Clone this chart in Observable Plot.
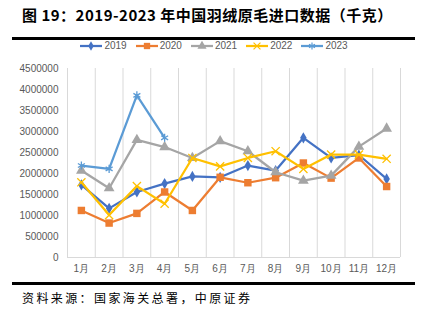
<!DOCTYPE html>
<html><head><meta charset="utf-8">
<script src="https://cdn.jsdelivr.net/npm/d3@7"></script>
<script src="https://cdn.jsdelivr.net/npm/@observablehq/plot@0.6"></script>
<style>
body{margin:0;background:#fff;width:424px;height:326px;position:relative;overflow:hidden;font-family:"Noto Sans CJK SC",sans-serif;}
#title{position:absolute;left:22px;top:4px;font-size:15px;font-weight:bold;letter-spacing:0.5px;color:#000;white-space:nowrap;line-height:22px}
#topline{position:absolute;left:12px;top:37px;width:403px;height:3px;background:#000}
#legend{position:absolute;top:40px;left:0;width:428px;display:flex;justify-content:center;gap:9px;font-size:10px;color:#595959;font-family:"Liberation Sans",sans-serif;line-height:12px}
#legend .it{display:flex;align-items:center;gap:2px}
#chart{position:absolute;left:0;top:40px}
#botline{position:absolute;left:12px;top:282px;width:403px;height:3px;background:#000}
#caption{position:absolute;left:22px;top:289px;font-size:12px;letter-spacing:2.4px;color:#000;white-space:nowrap;line-height:18px}
</style></head>
<body>
<div id="title">图 19：2019-2023 年中国羽绒原毛进口数据（千克）</div>
<div id="topline"></div>
<div id="chart"></div>
<div id="legend"></div>
<div id="botline"></div>
<div id="caption">资料来源：国家海关总署，中原证券</div>
<script>
const months = ["1月","2月","3月","4月","5月","6月","7月","8月","9月","10月","11月","12月"];
const years = ["2019","2020","2021","2022","2023"];
const v2019 = [1730000,1170000,1560000,1760000,1930000,1910000,2190000,2070000,2850000,2370000,2440000,1870000];
const v2020 = [1120000,820000,1050000,1560000,1120000,1910000,1780000,1900000,2250000,1890000,2370000,1690000];
const v2021 = [2070000,1650000,2800000,2630000,2370000,2770000,2530000,2030000,1830000,1950000,2640000,3070000];
const v2022 = [1790000,1010000,1700000,1280000,2370000,2170000,2370000,2530000,2110000,2450000,2450000,2350000];
const v2023 = [2190000,2110000,3860000,2850000];
const yTicks = [0,500000,1000000,1500000,2000000,2500000,3000000,3500000,4000000,4500000];
const colors = ["#4472C4","#ED7D31","#A5A5A5","#FFC000","#5B9BD5"];
const symbols = ["diamond","square","triangle","times","asterisk"];
const radii = [3.4,4.2,4,3.8,3.8];
const filled = [true,true,true,false,false];

const series = [v2019,v2020,v2021,v2022,v2023];
const marks = [
  Plot.ruleX(d3.range(0.5, months.length + 1), {y1: 0, y2: yTicks[yTicks.length-1], stroke: "#d9d9d9", strokeWidth: 1}),
  Plot.ruleY([0], {stroke: "#d9d9d9", strokeWidth: 1}),
];
series.forEach((vals, si) => {
  const data = vals.map((v, i) => ({m: i + 1, v, year: years[si]}));
  marks.push(Plot.lineY(data, {x: "m", y: "v", stroke: colors[si], strokeWidth: 2.25, strokeLinejoin: "round"}));
  marks.push(Plot.dot(data, filled[si]
    ? {x: "m", y: "v", symbol: () => symbols[si], r: radii[si], fill: colors[si], stroke: "none"}
    : {x: "m", y: "v", symbol: () => symbols[si], r: radii[si], fill: "none", stroke: colors[si], strokeWidth: 1.3}));
});
marks.push(Plot.axisX(d3.range(1, months.length + 1), {tickSize: 0, tickPadding: 7, tickFormat: i => months[i-1], fontSize: 10, fill: "#595959", label: null}));
marks.push(Plot.axisY(yTicks, {tickSize: 0, tickPadding: 9, tickFormat: d3.format("d"), fontSize: 10, fill: "#595959", label: null}));

const chart = Plot.plot({
  width: 424, height: 243,
  marginTop: 28, marginBottom: 26, marginLeft: 67, marginRight: 24,
  x: {domain: [0.5, months.length + 0.5], label: null},
  y: {domain: [0, yTicks[yTicks.length-1]], label: null},
  symbol: {type: "identity"},
  style: {fontFamily: "'Liberation Sans', sans-serif", background: "transparent"},
  marks
});
document.getElementById("chart").appendChild(chart);

// legend
const leg = document.getElementById("legend");
years.forEach((y, si) => {
  const it = document.createElement("div"); it.className = "it";
  const ns = "http://www.w3.org/2000/svg";
  const s = document.createElementNS(ns, "svg");
  s.setAttribute("width", 22); s.setAttribute("height", 10);
  const ln = document.createElementNS(ns, "line");
  ln.setAttribute("x1", 0); ln.setAttribute("x2", 22); ln.setAttribute("y1", 5); ln.setAttribute("y2", 5);
  ln.setAttribute("stroke", colors[si]); ln.setAttribute("stroke-width", 2.25);
  s.appendChild(ln);
  const symMap = {diamond: d3.symbolDiamond, square: d3.symbolSquare, triangle: d3.symbolTriangle, times: d3.symbolTimes, asterisk: d3.symbolAsterisk};
  const p = document.createElementNS(ns, "path");
  const rr = radii[si] * 0.85;
  p.setAttribute("d", d3.symbol(symMap[symbols[si]], Math.PI * rr * rr)());
  p.setAttribute("transform", "translate(11,5)");
  if (filled[si]) p.setAttribute("fill", colors[si]);
  else { p.setAttribute("fill", "none"); p.setAttribute("stroke", colors[si]); p.setAttribute("stroke-width", 1.2); }
  s.appendChild(p);
  it.appendChild(s);
  const t = document.createElement("span"); t.textContent = y;
  it.appendChild(t);
  leg.appendChild(it);
});
</script>
</body></html>
